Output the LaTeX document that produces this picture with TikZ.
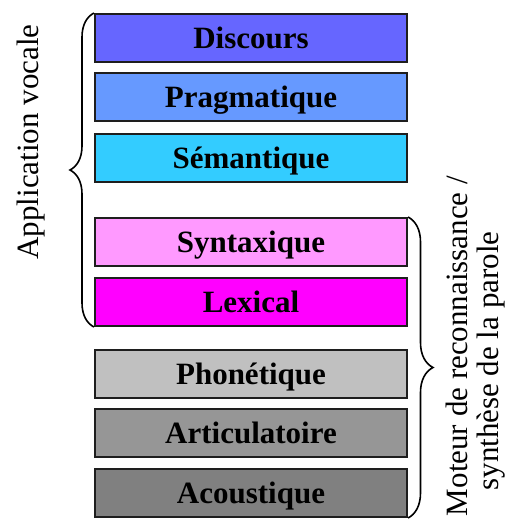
\documentclass[tikz,border=0pt]{standalone}
\usepackage{fontspec}
\setmainfont{Liberation Serif}
\usetikzlibrary{decorations.pathreplacing}
\definecolor{cdisc}{RGB}{102,102,255}
\definecolor{cprag}{RGB}{102,153,255}
\definecolor{csem}{RGB}{51,204,255}
\definecolor{csyn}{RGB}{255,153,255}
\definecolor{clex}{RGB}{255,0,255}
\definecolor{cpho}{RGB}{192,192,192}
\definecolor{cart}{RGB}{150,150,150}
\definecolor{caco}{RGB}{128,128,128}
\definecolor{cbord}{RGB}{30,30,30}
\tikzset{
  layer/.style={draw=cbord, line width=2pt, minimum width=312pt, minimum height=48pt,
    inner sep=0pt, text height=20.5pt, text depth=0pt,
    font=\fontsize{31}{36}\selectfont\bfseries},
  side/.style={rotate=90, inner sep=0pt, font=\fontsize{31}{36}\selectfont},
  bracebig/.style={decorate, line width=1.6pt, decoration={brace, amplitude=24pt}}
}
\begin{document}
\begin{tikzpicture}[x=1pt,y=-1pt]
\useasboundingbox (0,0) rectangle (512,522);
\node[layer, fill=cdisc] (disc) at (251,38) {Discours};
\node[layer, fill=cprag] (prag) at (251,97) {Pragmatique};
\node[layer, fill=csem] (sem) at (251,158) {Sémantique};
\node[layer, fill=csyn] (syn) at (251,242) {Syntaxique};
\node[layer, fill=clex] (lex) at (251,302) {Lexical};
\node[layer, fill=cpho] (pho) at (251,374) {Phonétique};
\node[layer, fill=cart] (art) at (251,433) {Articulatoire};
\node[layer, fill=caco] (aco) at (251,493) {Acoustique};
\draw[bracebig] (lex.south west) -- (disc.north west);
\draw[bracebig, decoration={amplitude=25pt}] (syn.north east) -- (aco.south east);
\node[side] (app) at (31,142) {Application vocale};
\node[side] (mot1) at (457,346) {Moteur de reconnaissance /};
\node[side] (mot2) at (491,361) {synthèse de la parole};
\end{tikzpicture}
\end{document}
